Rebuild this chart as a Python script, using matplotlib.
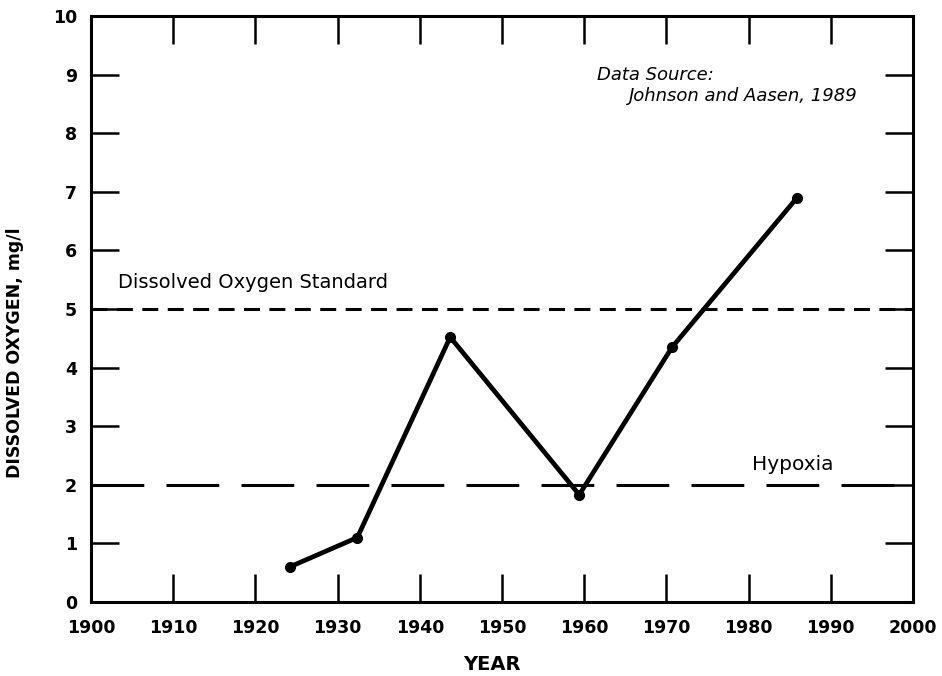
import matplotlib.pyplot as plt

plt.rcParams['font.family'] = ['DejaVu Sans']
plt.rcParams['lines.scale_dashes'] = False

years = [1924.2, 1932.4, 1943.7, 1959.4, 1970.7, 1985.9]
oxygen = [0.6, 1.1, 4.52, 1.83, 4.35, 6.9]

standard_level = 5
hypoxia_level = 2

x_ticks = list(range(1900, 2001, 10))
y_ticks = list(range(0, 11))

fig = plt.figure(figsize=(9.42, 6.76), dpi=100)
ax = fig.add_axes([0.0966, 0.1095, 0.8726, 0.8668])

ax.axhline(standard_level, color='black', lw=2.2, dashes=(11.5, 6.8))
ax.axhline(hypoxia_level, color='black', lw=2.2, dashes=(38, 16))

ax.plot(years, oxygen, color='black', lw=3.4, marker='o', markersize=7,
        solid_capstyle='round')

ax.set_xlim(1900, 2000)
ax.set_ylim(0, 10)
ax.set_xticks(x_ticks)
ax.set_yticks(y_ticks)

for s in ax.spines.values():
    s.set_linewidth(2.2)

ax.tick_params(axis='both', direction='in', length=20, width=1.8,
               top=True, right=True, labelsize=12.5)
ax.tick_params(axis='x', pad=12)
ax.tick_params(axis='y', pad=10)
for lab in ax.get_xticklabels() + ax.get_yticklabels():
    lab.set_fontweight('bold')

ax.set_xlabel('YEAR', fontsize=14, fontweight='bold')
ax.xaxis.set_label_coords(0.488, -0.09)
ax.set_ylabel('DISSOLVED OXYGEN, mg/l', fontsize=12.5, fontweight='bold')
ax.yaxis.set_label_coords(-0.0815, 0.425)

ax.text(1903.3, 5.45, 'Dissolved Oxygen Standard', fontsize=14,
        va='center', ha='left')
ax.text(1980.4, 2.34, 'Hypoxia', fontsize=14.5, va='center', ha='left')
ax.text(1961.5, 9.0, 'Data Source:', fontsize=13, style='italic',
        va='center', ha='left')
ax.text(1965.5, 8.63, 'Johnson and Aasen, 1989', fontsize=13,
        style='italic', va='center', ha='left')

fig.savefig('out.png', dpi=100)
